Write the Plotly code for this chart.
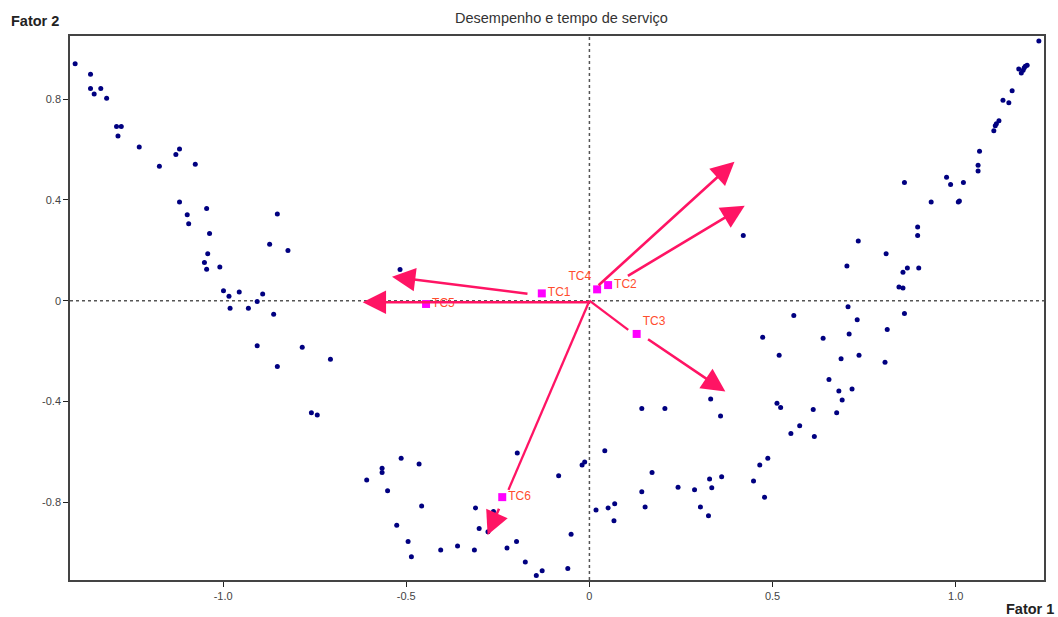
import plotly.graph_objects as go

# ---- scatter data (Fator 1, Fator 2) ----
pts_x = [-1.404, -1.362, -1.362, -1.352, -1.334, -1.318, -1.291, -1.278, -1.287, -1.229,
         -1.174, -1.129, -1.119, -1.076, -1.119, -1.098, -1.094, -1.045, -1.037, -1.042,
         -1.051, -1.045, -1.009, -0.999, -0.984, -0.956, -0.981, -0.931, -0.907, -0.892,
         -0.873, -0.852, -0.823, -0.862, -0.907, -0.784, -0.852, -0.707, -0.759, -0.743,
         -0.517,
         -0.608, -0.566, -0.566, -0.514, -0.465, -0.551, -0.458, -0.526, -0.495, -0.486,
         -0.406, -0.360, -0.314, -0.311, -0.262, -0.301, -0.277, -0.197, -0.225, -0.199,
         -0.175, -0.145, -0.129, -0.084, -0.059, -0.050, -0.020, -0.013, 0.042, 0.018,
         0.051, 0.069, 0.067, 0.143, 0.206, 0.171, 0.143, 0.152, 0.242, 0.287,
         0.303, 0.325, 0.328, 0.334, 0.361, 0.331, 0.358, 0.448, 0.465, 0.487,
         0.478, 0.473, 0.518, 0.558, 0.512, 0.522, 0.550, 0.574, 0.611, 0.614,
         0.638, 0.654, 0.675, 0.681, 0.690, 0.687, 0.706, 0.709, 0.717, 0.731,
         0.736, 0.807, 0.813, 0.860,
         1.227, 1.172, 1.179, 1.184, 1.187, 1.190, 1.195, 1.154, 1.129, 1.145,
         1.118, 1.111, 1.108, 1.104, 1.065, 1.061, 1.061, 0.975, 0.986, 1.021,
         1.007, 1.010, 0.933, 0.860, 0.896, 0.896, 0.810, 0.734, 0.703, 0.856,
         0.868, 0.899, 0.845, 0.856, 0.420]
pts_y = [0.941, 0.899, 0.843, 0.821, 0.843, 0.804, 0.692, 0.692, 0.654, 0.610,
         0.534, 0.580, 0.602, 0.542, 0.392, 0.341, 0.306, 0.366, 0.267, 0.186,
         0.152, 0.125, 0.134, 0.039, 0.018, 0.035, -0.030, -0.030, -0.003, 0.027,
         0.224, 0.344, 0.199, -0.054, -0.179, -0.185, -0.261, -0.232, -0.445, -0.454,
         0.124,
         -0.712, -0.665, -0.682, -0.626, -0.648, -0.755, -0.815, -0.892, -0.956, -1.017,
         -0.990, -0.974, -0.990, -0.823, -0.837, -0.905, -0.917, -0.605, -0.982, -0.956,
         -1.038, -1.091, -1.072, -0.695, -1.063, -0.927, -0.652, -0.640, -0.596, -0.831,
         -0.823, -0.806, -0.874, -0.428, -0.428, -0.682, -0.759, -0.819, -0.741, -0.751,
         -0.819, -0.854, -0.708, -0.743, -0.699, -0.390, -0.458, -0.716, -0.652, -0.626,
         -0.780, -0.145, -0.217, -0.059, -0.407, -0.424, -0.527, -0.497, -0.432, -0.539,
         -0.149, -0.313, -0.445, -0.359, -0.394, -0.231, -0.024, -0.132, -0.351, -0.076,
         -0.217, -0.244, -0.114, -0.051,
         1.031, 0.920, 0.904, 0.915, 0.925, 0.931, 0.935, 0.834, 0.796, 0.786,
         0.714, 0.703, 0.695, 0.675, 0.593, 0.538, 0.515, 0.490, 0.461, 0.469,
         0.392, 0.396, 0.392, 0.469, 0.293, 0.259, 0.186, 0.237, 0.138, 0.113,
         0.130, 0.130, 0.054, 0.050, 0.259]

# ---- category points (tempo de serviço) ----
tc_labels = ["TC1", "TC2", "TC3", "TC4", "TC5", "TC6"]
tc_x = [-0.130, 0.051, 0.129, 0.021, -0.446, -0.238]
tc_y = [0.029, 0.062, -0.132, 0.045, -0.013, -0.780]
tc_textpos = ["middle right", "middle right", "top right", "top left", "middle right", "middle right"]

# ---- arrows: tail -> tip ----
arrow_tail_x = [-0.165, 0.101, 0.156, 0.021, 0.0, -0.245]
arrow_tail_y = [0.027, 0.095, -0.149, 0.056, -0.006, -0.820]
arrow_tip_x = [-0.539, 0.424, 0.371, 0.396, -0.619, -0.278]
arrow_tip_y = [0.095, 0.377, -0.361, 0.552, -0.006, -0.930]

# ---- connecting segments from origin (TC3, TC6) ----
seg_end_x = [0.106, -0.221]
seg_end_y = [-0.116, -0.751]

x_ticks = [-1.0, -0.5, 0, 0.5, 1.0]
x_tick_text = ["-1.0", "-0.5", "0", "0.5", "1.0"]
y_ticks = [-0.8, -0.4, 0, 0.4, 0.8]
y_tick_text = ["-0.8", "-0.4", "0", "0.4", "0.8"]

ARROW = "#FF1464"
FONT = "Arial, Liberation Sans, sans-serif"

fig = go.Figure()

seg_x, seg_y = [], []
for ex, ey in zip(seg_end_x, seg_end_y):
    seg_x += [0, ex, None]
    seg_y += [0, ey, None]
fig.add_trace(go.Scatter(x=seg_x, y=seg_y, mode="lines",
                         line=dict(color=ARROW, width=2.3), hoverinfo="skip"))

fig.add_trace(go.Scatter(x=pts_x, y=pts_y, mode="markers",
                         marker=dict(color="#000080", size=5), hoverinfo="skip"))

fig.add_trace(go.Scatter(x=tc_x, y=tc_y, mode="markers+text", text=tc_labels,
                         textposition=tc_textpos,
                         textfont=dict(family=FONT, size=12, color="#FF4D2E"),
                         marker=dict(color="#FF00FF", size=8, symbol="square"),
                         hoverinfo="skip"))

annotations = []
for tx, ty, hx, hy in zip(arrow_tail_x, arrow_tail_y, arrow_tip_x, arrow_tip_y):
    annotations.append(dict(x=hx, y=hy, ax=tx, ay=ty, xref="x", yref="y",
                            axref="x", ayref="y", text="", showarrow=True,
                            arrowhead=2, arrowsize=1.8, arrowwidth=2.6,
                            arrowcolor=ARROW, standoff=0, startstandoff=0))

annotations += [
    dict(text="Desempenho e tempo de serviço", xref="paper", yref="paper",
         x=0.505, y=1.0, yshift=18, xanchor="center", yanchor="middle",
         showarrow=False, font=dict(family=FONT, size=14.5, color="#333333")),
    dict(text="<b>Fator 2</b>", xref="paper", yref="paper", x=0, xshift=-61,
         y=1.0, yshift=15, xanchor="left", yanchor="middle", showarrow=False,
         font=dict(family=FONT, size=14.5, color="#222222")),
    dict(text="<b>Fator 1</b>", xref="paper", yref="paper", x=1, xshift=12,
         y=0, yshift=-29, xanchor="right", yanchor="middle", showarrow=False,
         font=dict(family=FONT, size=14.5, color="#222222")),
]

shapes = [
    dict(type="line", xref="x", yref="paper", x0=0, x1=0, y0=0, y1=1,
         line=dict(color="#555555", width=1.5, dash="3px,3px"), layer="below"),
    dict(type="line", xref="paper", yref="y", x0=0, x1=1, y0=0, y1=0,
         line=dict(color="#555555", width=1.5, dash="3px,3px"), layer="below"),
]

fig.update_layout(
    width=1058, height=617,
    margin=dict(l=70, r=12, t=36, b=37),
    paper_bgcolor="white", plot_bgcolor="white",
    showlegend=False,
    font=dict(family=FONT, size=11, color="#444444"),
    annotations=annotations, shapes=shapes,
    xaxis=dict(range=[-1.418, 1.241], tickvals=x_ticks, ticktext=x_tick_text,
               showgrid=False, zeroline=False, showline=True, linecolor="#444444",
               linewidth=1.5, mirror=True, ticks="outside", ticklen=5,
               tickcolor="#222222", tickfont=dict(size=11, color="#444444")),
    yaxis=dict(range=[-1.109, 1.051], tickvals=y_ticks, ticktext=y_tick_text,
               showgrid=False, zeroline=False, showline=True, linecolor="#444444",
               linewidth=1.5, mirror=True, ticks="outside", ticklen=5,
               tickcolor="#222222", tickfont=dict(size=11, color="#444444")),
)

fig.write_html("out.html", config={"displayModeBar": False},
               post_script="document.body.style.margin='0';document.body.style.overflow='hidden';")
